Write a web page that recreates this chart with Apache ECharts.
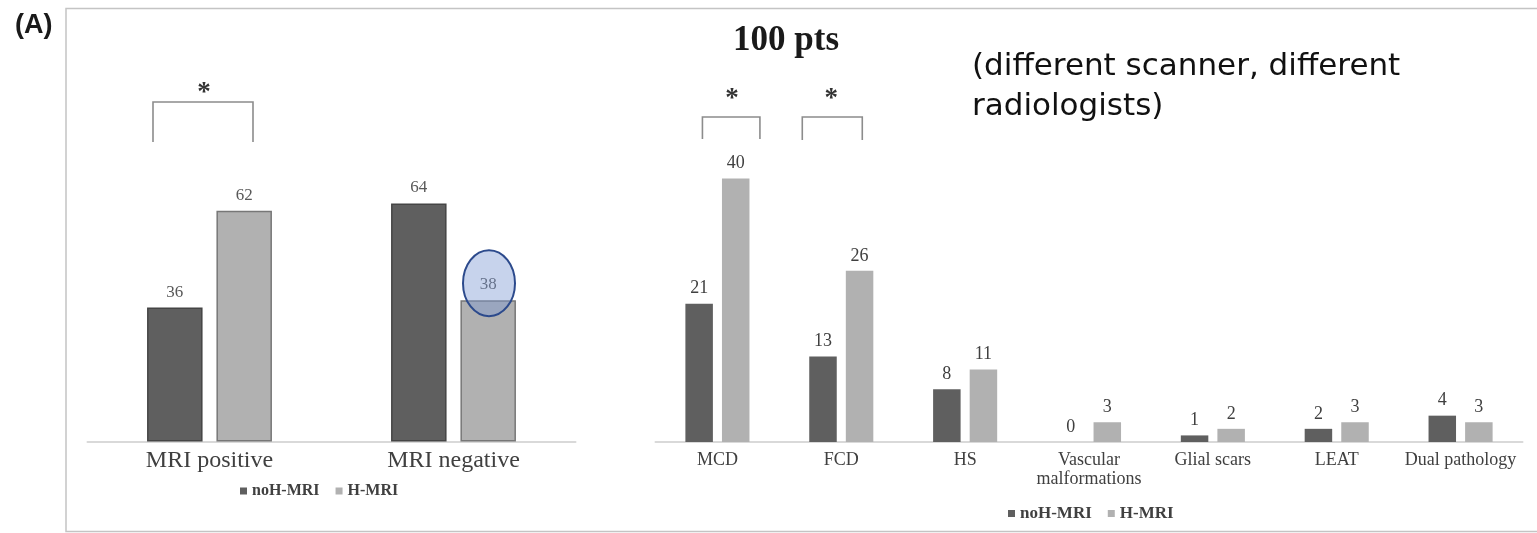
<!DOCTYPE html>
<html>
<head>
<meta charset="utf-8">
<script src="https://cdn.jsdelivr.net/npm/echarts@6/dist/echarts.min.js"></script>
<style>
html,body{margin:0;padding:0;background:#fff;}
#c{width:1537px;height:533px;}
</style>
</head>
<body>
<div id="c"></div>
<script>
// ---- data ----
const seriesNames = ['noH-MRI', 'H-MRI'];
const leftCategories = ['MRI positive', 'MRI negative'];
const leftNoH = [36, 64];
const leftH = [62, 38];
const rightCategories = ['MCD', 'FCD', 'HS', 'Vascular\nmalformations', 'Glial scars', 'LEAT', 'Dual pathology'];
const rightNoH = [21, 13, 8, 0, 1, 2, 4];
const rightH = [40, 26, 11, 3, 2, 3, 3];
const titleText = '100 pts';
const noteLines = ['(different scanner, different', 'radiologists)'];
const panelLabel = '(A)';

// ---- styles ----
const DARK = '#5f5f5f', LIGHT = '#b1b1b1';
const SERIF = '"Liberation Serif", "Times New Roman", serif';
const NOTE_FONT = '"DejaVu Sans"';

const chart = echarts.init(document.getElementById('c'), null, {renderer: 'canvas'});

function axisX(gridIndex, data, fs, margin, lh) {
  return {
    type: 'category', gridIndex: gridIndex, data: data,
    axisTick: {show: false},
    axisLine: {lineStyle: {color: '#d9d9d9', width: 2}},
    axisLabel: {interval: 0, fontFamily: SERIF, fontSize: fs, color: '#404040', margin: margin, lineHeight: lh}
  };
}
function axisY(gridIndex, max) {
  return {type: 'value', gridIndex: gridIndex, min: 0, max: max, show: false, splitLine: {show: false}};
}
function barSeries(name, data, idx, color, bw, gap, border, labelFs, labelDist, labelColor) {
  return {
    type: 'bar', name: name, data: data, xAxisIndex: idx, yAxisIndex: idx,
    barWidth: bw, barGap: gap,
    itemStyle: {color: color, borderColor: border || color, borderWidth: border ? 1.5 : 0},
    label: {show: true, position: 'top', distance: labelDist, fontFamily: SERIF, fontSize: labelFs, color: labelColor},
    emphasis: {disabled: true}, animation: false
  };
}

function legend(left, top, fs, gap) {
  return {data: seriesNames, left: left, top: top, padding: 0, icon: 'rect', itemWidth: 7, itemHeight: 7, itemGap: gap,
    itemStyle: {borderWidth: 0},
    textStyle: {fontFamily: SERIF, fontSize: fs, fontWeight: 'bold', color: '#404040', padding: [0, 0, 0, 0]},
    selectedMode: false};
}

const option = {
  animation: false,
  grid: [
    {left: 87.5, top: 69.5, width: 488, height: 372},
    {left: 655.5, top: 112.75, width: 867, height: 329.25}
  ],
  xAxis: [axisX(0, leftCategories, 24, 7, 24), axisX(1, rightCategories, 18, 9, 19)],
  yAxis: [axisY(0, 100), axisY(1, 50)],
  legend: [legend(240, 483, 16, 16), legend(1008, 505, 17, 16)],
  series: [
    barSeries(seriesNames[0], leftNoH, 0, DARK, 55.5, '25%', '#454545', 17, 7, '#595959'),
    barSeries(seriesNames[1], leftH, 0, LIGHT, 55.5, '25%', '#777777', 17, 7, '#595959'),
    barSeries(seriesNames[0], rightNoH, 1, DARK, 27.5, '33%', null, 18, 6, '#404040'),
    barSeries(seriesNames[1], rightH, 1, LIGHT, 27.5, '33%', null, 18, 6, '#404040')
  ]
};
chart.setOption(option);

// ---- annotations (brackets, asterisks, ellipse, frame, note) ----
function catX(grid, cat) { return chart.convertToPixel({xAxisIndex: grid, yAxisIndex: grid}, [cat, 0])[0]; }
function valY(grid, v) { return chart.convertToPixel({xAxisIndex: grid, yAxisIndex: grid}, [0, v])[1]; }

function bracket(x1, x2, yTop, yBot) {
  return {type: 'polyline', silent: true, z: 10,
    shape: {points: [[x1, yBot], [x1, yTop], [x2, yTop], [x2, yBot]]},
    style: {stroke: '#8c8c8c', lineWidth: 1.6, fill: null}};
}
function star(x, y) {
  return {type: 'text', silent: true, z: 10, x: x, y: y,
    style: {text: '*', font: 'bold 27px ' + SERIF, fill: '#333', align: 'center', verticalAlign: 'middle'}};
}

const c0 = catX(0, leftCategories[0]);
const c1 = catX(0, leftCategories[1]);
const m0 = catX(1, rightCategories[0]);
const m1 = catX(1, rightCategories[1]);

// fit note font so first line spans its width in the reference
const cv = document.createElement('canvas').getContext('2d');
let noteFs = 24;
cv.font = noteFs + 'px ' + NOTE_FONT;
noteFs = Math.min(31, noteFs * 455 / cv.measureText(noteLines[0]).width);

const graphics = [
  {type: 'rect', silent: true, z: 0, shape: {x: 66, y: 8.5, width: 1480, height: 523},
    style: {stroke: '#c4c4c4', lineWidth: 1.5, fill: null}},
  {type: 'text', silent: true, x: 15, y: 26,
    style: {text: panelLabel, font: 'bold 27px "Liberation Sans", Arial, sans-serif', fill: '#1a1a1a', align: 'left', verticalAlign: 'middle'}},
  {type: 'text', silent: true, x: 786, y: 41,
    style: {text: titleText, font: 'bold 35px ' + SERIF, fill: '#1a1a1a', align: 'center', verticalAlign: 'middle'}},
  bracket(c0 - 56.5, c0 + 43.5, 102, 142),
  star(c0 - 5.5, 92.6),
  bracket(m0 - 15, m0 + 42.5, 117, 139),
  star(m0 + 14.5, 98.6),
  bracket(m1 - 39, m1 + 21, 117, 140),
  star(m1 - 10, 98.6),
  {type: 'ellipse', silent: true, z: 20,
    shape: {cx: c1 + 35.5, cy: valY(0, leftH[1]) - 17, rx: 26, ry: 33},
    style: {fill: 'rgba(121,150,210,0.42)', stroke: '#2c4a8c', lineWidth: 2}},
  {type: 'text', silent: true, x: 972, y: 77 - noteFs * 0.34,
    style: {text: noteLines[0], font: noteFs + 'px ' + NOTE_FONT, fill: '#111', align: 'left', verticalAlign: 'middle'}},
  {type: 'text', silent: true, x: 972, y: 117 - noteFs * 0.34,
    style: {text: noteLines[1], font: noteFs + 'px ' + NOTE_FONT, fill: '#111', align: 'left', verticalAlign: 'middle'}}
];
chart.setOption({graphic: graphics});
</script>
</body>
</html>
